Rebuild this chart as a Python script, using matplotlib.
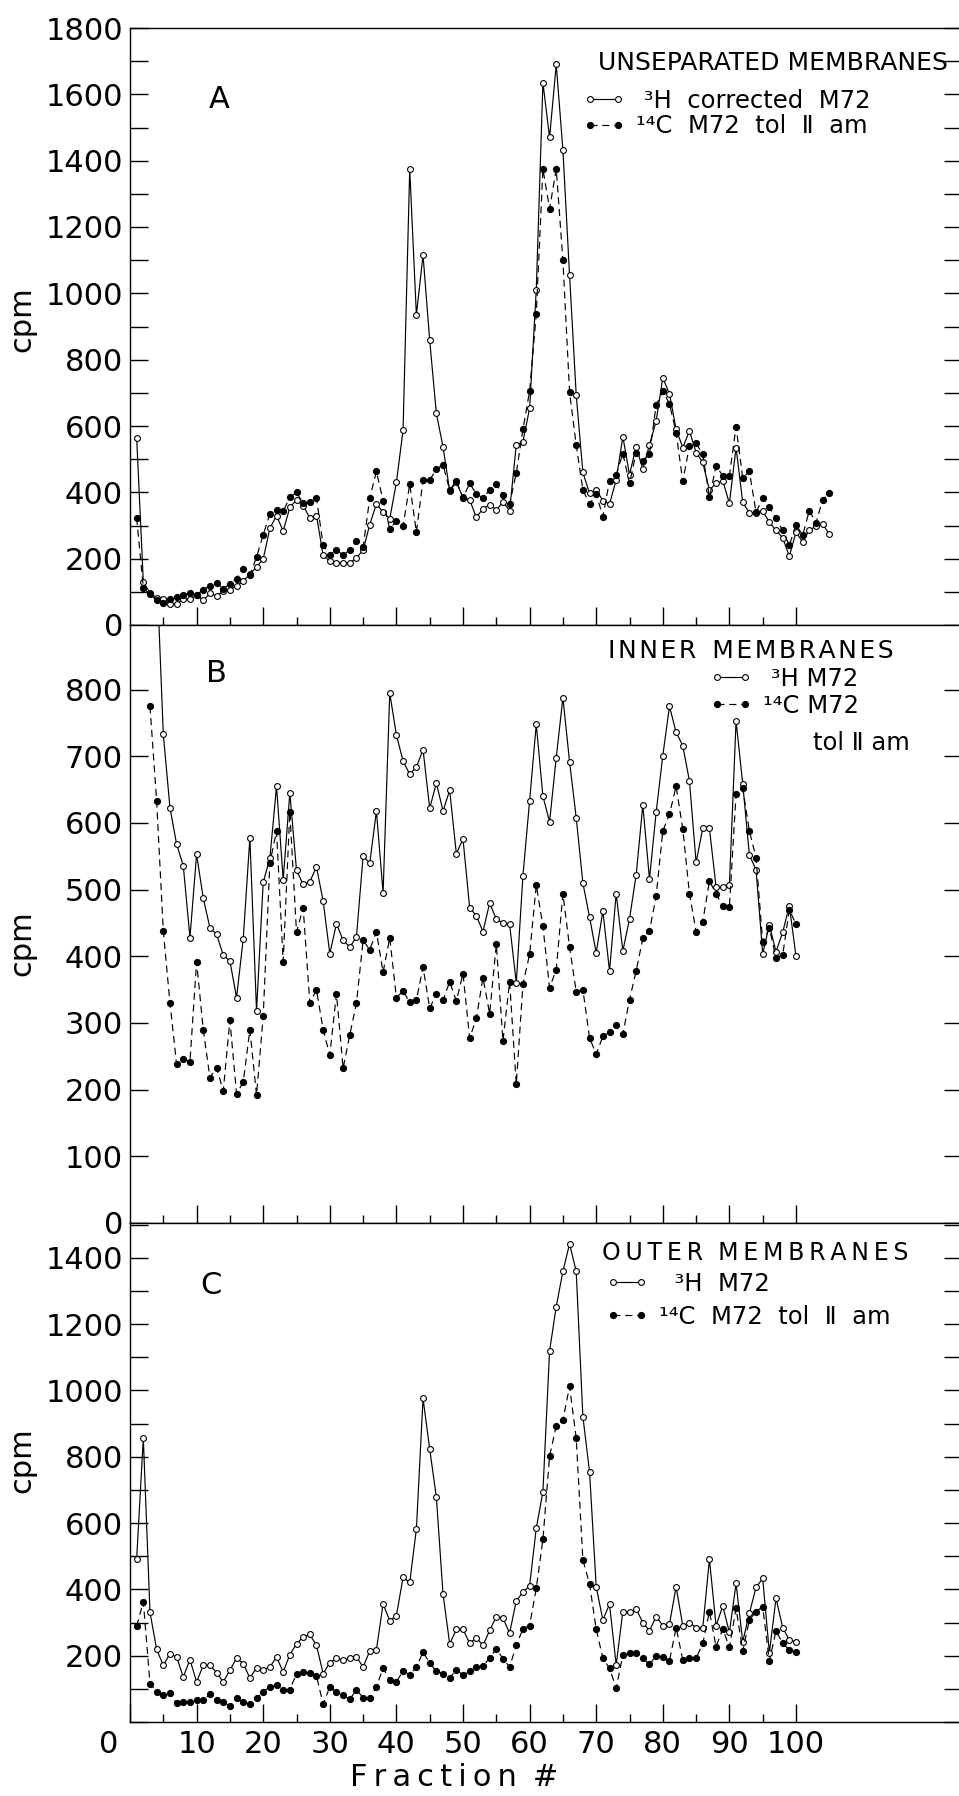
import numpy as np
import matplotlib.pyplot as plt
from matplotlib.ticker import MultipleLocator
from matplotlib.transforms import ScaledTranslation

plt.rcParams['font.family'] = ['DejaVu Sans']

# ---- A: unseparated membranes (fractions 1-105) ----
frac_a = np.arange(1, 106)
h3_a = [565, 130, 97, 82, 77, 64, 63, 78, 78, 90,
        75, 95, 87, 103, 107, 118, 132, 153, 175, 199,
        291, 330, 283, 355, 377, 360, 323, 330, 210, 193,
        188, 188, 187, 203, 225, 303, 365, 340, 320, 430,
        587, 1375, 935, 1115, 858, 638, 537, 405, 430, 385,
        377, 325, 350, 363, 347, 370, 345, 543, 553, 653,
        1010, 1635, 1470, 1690, 1432, 1055, 693, 460, 397, 407,
        375, 365, 437, 568, 453, 538, 470, 543, 615, 745,
        697, 590, 535, 585, 520, 490, 407, 427, 435, 367,
        535, 370, 338, 338, 343, 310, 285, 263, 207, 280,
        250, 287, 297, 305, 273]
c14_a = [323, 112, 92, 75, 67, 78, 83, 90, 97, 90,
         107, 118, 127, 109, 124, 140, 170, 150, 205, 272,
         335, 347, 343, 385, 400, 367, 370, 383, 240, 210,
         227, 210, 227, 253, 235, 383, 463, 375, 290, 313,
         297, 425, 280, 437, 437, 470, 483, 407, 435, 383,
         427, 395, 383, 407, 425, 393, 365, 458, 590, 705,
         937, 1375, 1255, 1375, 1100, 703, 542, 407, 365, 395,
         327, 435, 453, 517, 427, 520, 495, 515, 663, 705,
         667, 580, 433, 540, 548, 515, 385, 480, 450, 450,
         598, 443, 463, 340, 382, 355, 322, 285, 240, 303,
         270, 345, 307, 378, 398]

# ---- B: inner membranes ----
frac_b_h = np.arange(4, 101)
h3_b = [985, 733, 623, 568, 536, 428, 553,
        487, 443, 433, 402, 393, 338, 426, 578, 318, 511,
        547, 655, 515, 645, 529, 508, 512, 534, 483, 404,
        449, 424, 414, 429, 550, 540, 618, 495, 795, 732,
        693, 673, 684, 710, 622, 660, 618, 649, 554, 576,
        473, 461, 437, 480, 456, 450, 448, 360, 521, 633,
        748, 640, 602, 698, 788, 692, 608, 510, 459, 405,
        468, 378, 494, 408, 456, 522, 627, 516, 616, 701,
        775, 736, 716, 663, 541, 592, 592, 504, 504, 507,
        753, 659, 552, 530, 404, 447, 407, 436, 476, 400]
frac_b_c = np.arange(3, 101)
c14_b = [775, 633, 438, 330, 238, 246, 242, 392,
         290, 218, 233, 198, 304, 194, 211, 290, 192, 310,
         540, 588, 392, 617, 436, 473, 330, 350, 290, 252,
         344, 232, 282, 330, 424, 410, 437, 376, 428, 338,
         348, 331, 334, 384, 322, 344, 334, 362, 333, 374,
         277, 307, 368, 314, 418, 273, 362, 208, 358, 403,
         507, 445, 353, 380, 494, 414, 347, 350, 278, 253,
         280, 286, 297, 283, 335, 378, 427, 438, 490, 588,
         613, 655, 591, 494, 437, 452, 513, 494, 475, 474,
         644, 652, 588, 548, 422, 442, 398, 402, 470, 448]

# ---- C: outer membranes (fractions 1-100) ----
frac_c = np.arange(1, 101)
h3_c = [493, 856, 331, 219, 171, 206, 196, 136, 188, 121,
        171, 171, 149, 121, 156, 193, 176, 133, 163, 158,
        166, 196, 151, 203, 236, 256, 264, 231, 146, 179,
        193, 186, 193, 196, 166, 214, 218, 356, 306, 321,
        436, 421, 581, 976, 823, 678, 386, 236, 279, 279,
        238, 254, 231, 276, 318, 314, 268, 366, 391, 411,
        584, 695, 1119, 1253, 1359, 1442, 1359, 921, 755, 408,
        308, 355, 172, 333, 331, 341, 300, 275, 318, 291,
        295, 408, 290, 300, 285, 283, 491, 290, 350, 270,
        418, 242, 328, 406, 433, 209, 373, 285, 247, 242]
c14_c = [289, 363, 116, 91, 81, 88, 56, 59, 59, 66,
         66, 84, 66, 61, 48, 71, 61, 54, 71, 91,
         106, 111, 96, 98, 146, 151, 148, 139, 54, 106,
         91, 81, 68, 98, 73, 71, 106, 163, 126, 121,
         154, 143, 166, 211, 178, 153, 146, 133, 158, 141,
         153, 166, 168, 193, 221, 191, 166, 231, 281, 291,
         403, 551, 802, 893, 911, 1012, 856, 489, 416, 280,
         192, 162, 102, 202, 207, 207, 192, 174, 199, 197,
         184, 285, 187, 192, 192, 237, 333, 227, 281, 225,
         343, 214, 308, 333, 348, 184, 275, 237, 217, 212]

W, H = 959, 1796
fig = plt.figure(figsize=(W / 100, H / 100), dpi=100)

def px(x, y):
    return x / W, 1 - y / H

def make_axes(top, bottom):
    return fig.add_axes([130 / W, 1 - bottom / H, 832.5 / W, (bottom - top) / H])

ax_a = make_axes(28, 625)
ax_b = make_axes(625, 1223)
ax_c = make_axes(1223, 1722)

TICK_FS = 22
LEG_FS = 17.5

def draw(ax, xh, yh, xc, yc, ymax, label_step):
    lh, = ax.plot(xh, yh, color='black', lw=0.85, marker='o', ms=4.2,
                  mfc='white', mec='black', mew=0.8)
    lc, = ax.plot(xc, yc, color='black', lw=0.85, ls=(0, (6, 4)), marker='o',
                  ms=4.2, mfc='black', mec='black')
    ax.set_xlim(0, 125)
    ax.set_ylim(0, ymax)
    for s in ax.spines.values():
        s.set_linewidth(1.0)
    ax.set_xticks(np.arange(10, 101, 10))
    ax.set_xticks(np.arange(5, 100, 10), minor=True)
    ax.tick_params(axis='x', which='major', direction='in', length=13, width=1.0,
                   labelbottom=False)
    ax.tick_params(axis='x', which='minor', direction='in', length=6, width=1.0)
    ax.yaxis.set_major_locator(MultipleLocator(label_step))
    ax.yaxis.set_minor_locator(MultipleLocator(100))
    ax.tick_params(axis='y', which='both', direction='in', length=13, width=1.0,
                   right=True, labelsize=TICK_FS, pad=5)
    return lh, lc

lh_a, lc_a = draw(ax_a, frac_a, h3_a, frac_a, c14_a, 1800, 200)
lh_b, lc_b = draw(ax_b, frac_b_h, h3_b, frac_b_c, c14_b, 897, 100)
lh_c, lc_c = draw(ax_c, frac_c, h3_c, frac_c, c14_c, 1505, 200)

# zero labels sit just above the axis line
for ax, dy in ((ax_a, 0.10), (ax_b, 0.06)):
    lab = ax.get_yticklabels()[0]
    lab.set_transform(lab.get_transform() + ScaledTranslation(0, dy, fig.dpi_scale_trans))
ax_c.set_yticks(np.arange(200, 1401, 200))

# bottom axis labels
xt = list(range(0, 101, 10))
ax_c.set_xticks(xt)
ax_c.set_xticklabels([str(v) for v in xt])
ax_c.tick_params(axis='x', which='major', labelbottom=True, labelsize=TICK_FS, pad=6)
zl = ax_c.get_xticklabels()[0]
zl.set_transform(zl.get_transform() + ScaledTranslation(-0.21, 0, fig.dpi_scale_trans))
fig.text(*px(454, 1777), 'F\u2009r\u2009a\u2009c\u2009t\u2009i\u2009o\u2009n\u2009 #',
         fontsize=TICK_FS, ha='center', va='center')

# y labels
for y in (319, 943, 1460):
    fig.text(*px(22, y), 'cpm', fontsize=TICK_FS, rotation=90, ha='center', va='center')

# panel letters
for letter, (x, y) in zip('ABC', ((219, 99), (216, 674), (211, 1286))):
    fig.text(*px(x, y), letter, fontsize=22, ha='center', va='center')

# legends
def legend(ax, handles, labels, x, top, spacing):
    ax.legend(handles, labels, loc='upper left', bbox_to_anchor=px(x, top),
              bbox_transform=fig.transFigure, frameon=False, fontsize=LEG_FS,
              numpoints=2, handlelength=1.75, handletextpad=0.45,
              labelspacing=spacing, borderpad=0, borderaxespad=0)

fig.text(*px(598, 70), 'UNSEPARATED MEMBRANES', fontsize=18, ha='left', va='baseline')
legend(ax_a, [lh_a, lc_a], [' ³H  corrected  M72', '¹⁴C  M72  tol  Ⅱ  am'], 583, 89, 0.05)

fig.text(*px(608, 658), 'I\u200aN\u200aN\u200aE\u200aR  M\u200aE\u200aM\u200aB\u200aR\u200aA\u200aN\u200aE\u200aS',
         fontsize=18, ha='left', va='baseline')
legend(ax_b, [lh_b, lc_b], [' ³H M72', '¹⁴C M72'], 710, 667, 0.12)
fig.text(*px(813, 750), 'tol Ⅱ am', fontsize=LEG_FS, ha='left', va='baseline')

fig.text(*px(602, 1260), 'O\u2009U\u2009T\u2009E\u2009R  M\u2009E\u2009M\u2009B\u2009R\u2009A\u2009N\u2009E\u2009S',
         fontsize=17, ha='left', va='baseline')
legend(ax_c, [lh_c, lc_c], ['  ³H  M72', '¹⁴C  M72  tol  Ⅱ  am'], 606, 1272, 0.37)

fig.savefig('out.png', dpi=100)
